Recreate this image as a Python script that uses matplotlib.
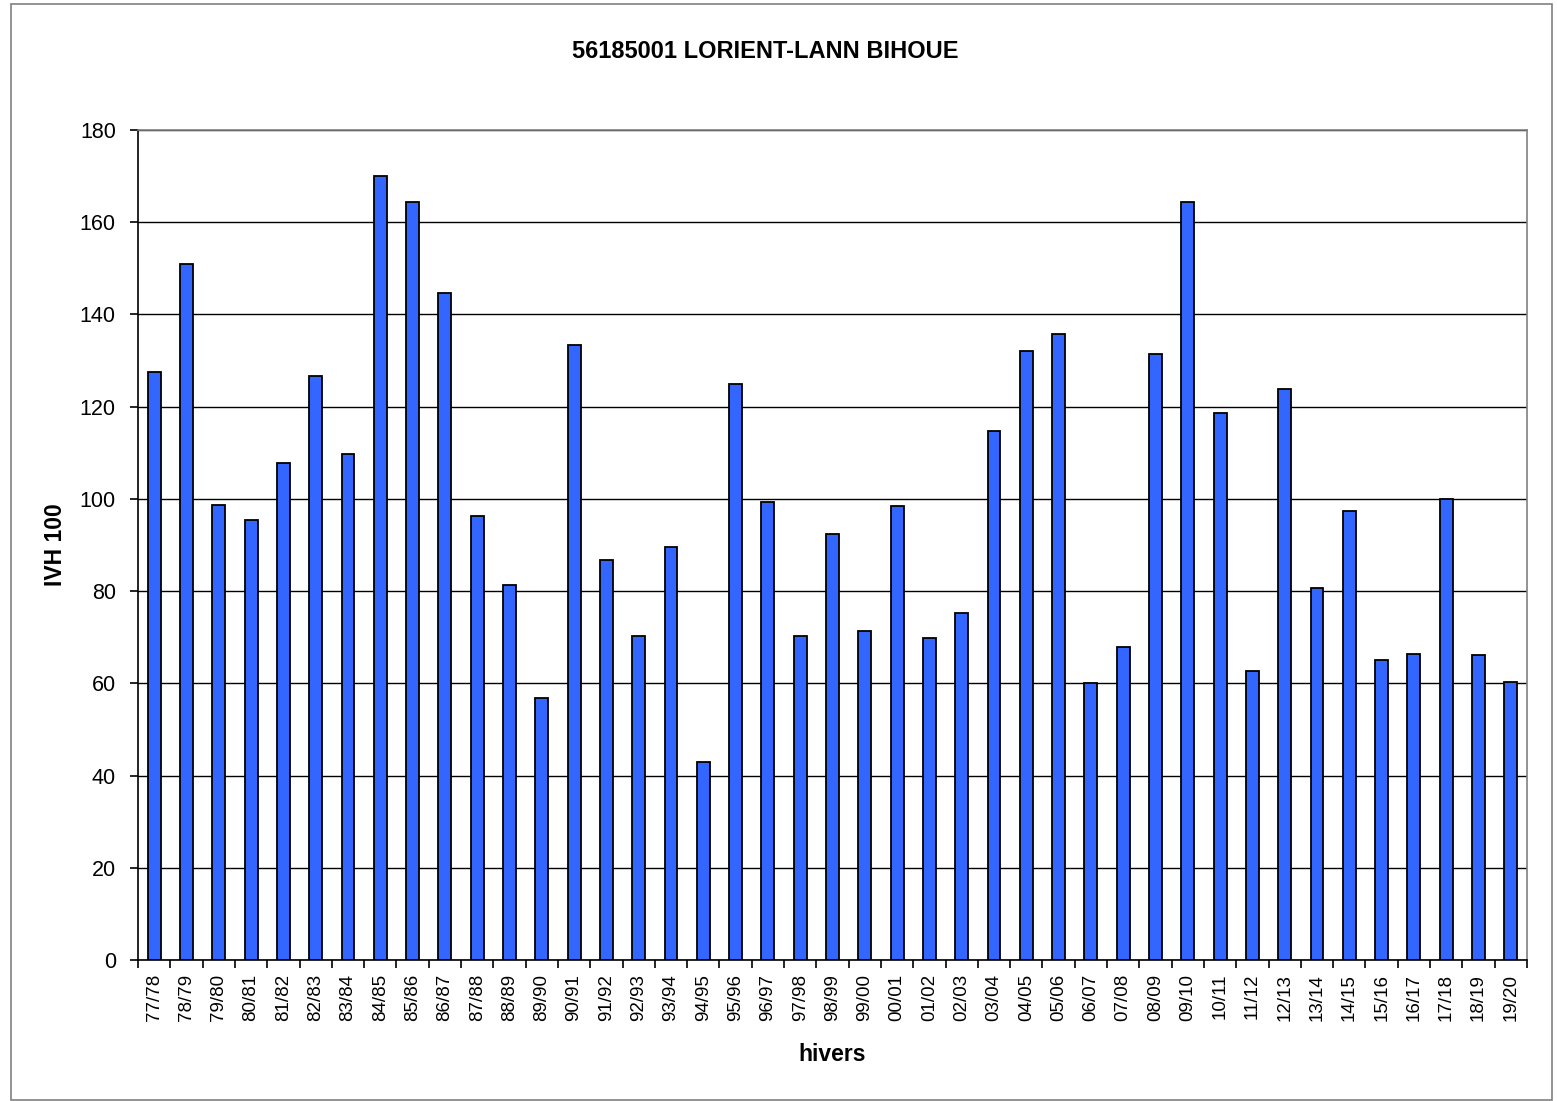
import matplotlib
matplotlib.use("Agg")
import matplotlib.pyplot as plt
from matplotlib.patches import Rectangle

plt.rcParams['font.family'] = ['Liberation Sans', 'DejaVu Sans']

winters = ["77/78", "78/79", "79/80", "80/81", "81/82", "82/83", "83/84", "84/85", "85/86", "86/87",
           "87/88", "88/89", "89/90", "90/91", "91/92", "92/93", "93/94", "94/95", "95/96", "96/97",
           "97/98", "98/99", "99/00", "00/01", "01/02", "02/03", "03/04", "04/05", "05/06", "06/07",
           "07/08", "08/09", "09/10", "10/11", "11/12", "12/13", "13/14", "14/15", "15/16", "16/17",
           "17/18", "18/19", "19/20"]
ivh100 = [127.5, 150.9, 98.7, 95.4, 107.8, 126.6, 109.7, 170.0, 164.4, 144.6,
          96.3, 81.3, 56.8, 133.4, 86.7, 70.3, 89.6, 42.9, 124.9, 99.3,
          70.3, 92.4, 71.4, 98.5, 69.8, 75.3, 114.7, 132.1, 135.8, 60.1,
          67.9, 131.4, 164.4, 118.6, 62.7, 123.8, 80.7, 97.4, 65.1, 66.4,
          100.0, 66.1, 60.3]
yticks = [0, 20, 40, 60, 80, 100, 120, 140, 160, 180]

fig = plt.figure(figsize=(15.57, 11.01), dpi=100)
fig.patch.set_facecolor('white')
fig.patches.append(Rectangle((11/1557, 1 - 1100/1101), 1541/1557, 1096/1101,
                             transform=fig.transFigure, fill=False,
                             edgecolor='#808080', linewidth=1.2, zorder=0))

ax = fig.add_axes([138/1557, 1 - 960/1101, 1389/1557, 830/1101])
x = list(range(len(winters)))
ax.bar(x, ivh100, width=0.4, color='#3366FF', edgecolor='black', linewidth=1.3, zorder=3)

ax.set_xlim(-0.5, len(winters) - 0.5)
ax.set_ylim(0, 180)
ax.set_yticks(yticks)
ax.set_yticklabels([str(v) for v in yticks], fontsize=15.5)
ax.yaxis.grid(True, color='black', linewidth=1.0, zorder=0)
ax.set_axisbelow(True)

ax.set_xticks(x)
ax.set_xticklabels(winters, rotation=90, fontsize=13.5)
ax.tick_params(axis='x', which='major', length=0, pad=10)
ax.set_xticks([i - 0.5 for i in range(len(winters) + 1)], minor=True)
ax.tick_params(axis='x', which='minor', length=6, width=1.2, direction='out')
ax.tick_params(axis='y', length=6, width=1.2, direction='out', pad=10)

for s in ['top', 'right']:
    ax.spines[s].set_color('#808080')
    ax.spines[s].set_linewidth(1.2)
for s in ['left', 'bottom']:
    ax.spines[s].set_color('black')
    ax.spines[s].set_linewidth(1.2)

ax.set_xlabel('hivers', fontsize=16.5, fontweight='bold', labelpad=16)
ax.set_ylabel('IVH 100', fontsize=16.5, fontweight='bold', labelpad=9)
fig.text(765/1557, 1 - 51/1101, '56185001 LORIENT-LANN BIHOUE', fontsize=17,
         fontweight='bold', ha='center', va='center')

fig.savefig('out.png', dpi=100)
